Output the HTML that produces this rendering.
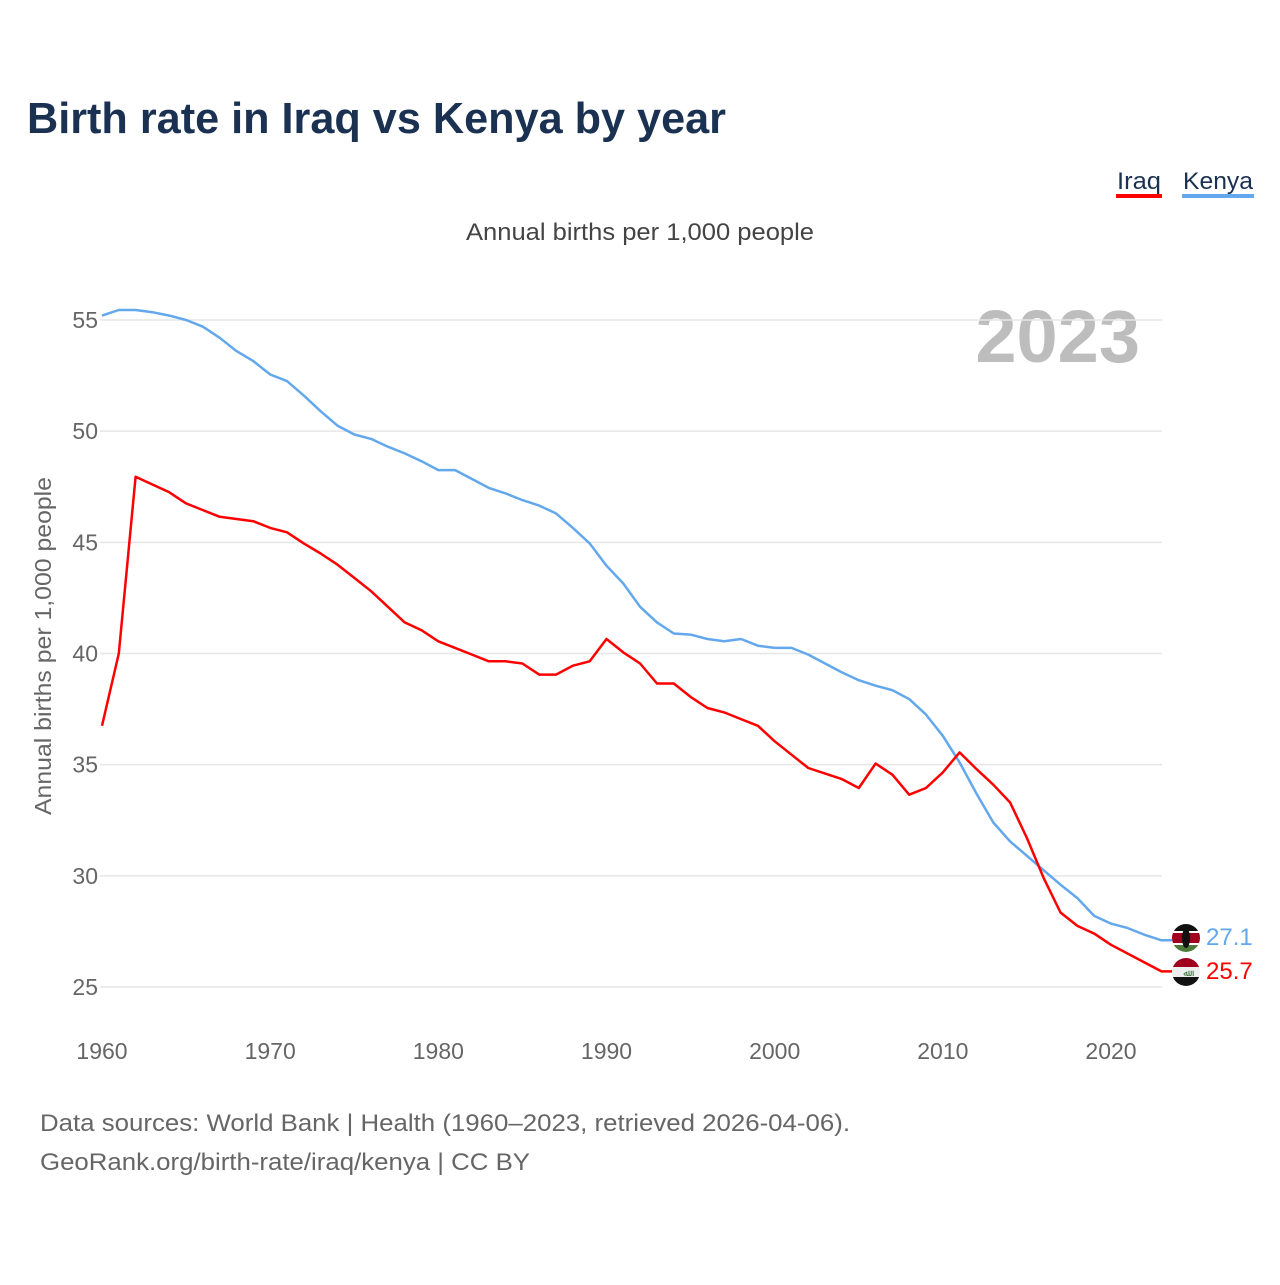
<!DOCTYPE html>
<html><head><meta charset="utf-8"><style>
body{margin:0;background:#fff;}
svg text{font-family:"Liberation Sans",sans-serif;}
</style></head><body>
<svg id="chart" width="1280" height="1280" viewBox="0 0 1280 1280" xmlns="http://www.w3.org/2000/svg">
<defs>
<clipPath id="cK"><circle cx="1186" cy="938" r="14"/></clipPath>
<clipPath id="cI"><circle cx="1186" cy="972" r="14"/></clipPath>
</defs>
<text x="27" y="133" font-size="44" font-weight="bold" fill="#1b3152" textLength="699" lengthAdjust="spacingAndGlyphs">Birth rate in Iraq vs Kenya by year</text>
<g>
<text x="1117" y="189" font-size="24" fill="#1b3152" textLength="44" lengthAdjust="spacingAndGlyphs">Iraq</text>
<rect x="1116" y="194" width="46" height="4" fill="#ff0000"/>
</g>
<g>
<text x="1183" y="189" font-size="24" fill="#1b3152" textLength="70" lengthAdjust="spacingAndGlyphs">Kenya</text>
<rect x="1182" y="194" width="72" height="4" fill="#63a8ec"/>
</g>
<text x="466" y="240" font-size="24" fill="#444" textLength="348" lengthAdjust="spacingAndGlyphs">Annual births per 1,000 people</text>
<text x="1140" y="362" font-size="74" font-weight="bold" fill="#bdbdbd" text-anchor="end">2023</text>
<text transform="translate(51,815) rotate(-90)" font-size="23" fill="#666" textLength="338" lengthAdjust="spacingAndGlyphs">Annual births per 1,000 people</text>
<g id="grid"></g>
<g id="yticks"></g>
<g id="xticks"></g>
<g id="lines"></g>
<g>
<g clip-path="url(#cK)">
<rect x="1170" y="922" width="32" height="9" fill="#111"/>
<rect x="1170" y="931" width="32" height="2" fill="#fff"/>
<rect x="1170" y="933" width="32" height="10" fill="#a0001e"/>
<rect x="1170" y="943" width="32" height="2" fill="#fff"/>
<rect x="1170" y="945" width="32" height="10" fill="#4e7a3a"/>
<ellipse cx="1186" cy="938" rx="4" ry="10" fill="#111"/>
</g>
<text x="1206" y="945" font-size="24" fill="#63a8ec">27.1</text>
</g>
<g>
<g clip-path="url(#cI)">
<rect x="1170" y="956" width="32" height="11" fill="#a0001e"/>
<rect x="1170" y="967" width="32" height="10" fill="#eee"/>
<rect x="1170" y="977" width="32" height="11" fill="#111"/>
<text x="1186" y="976" font-size="9" fill="#2f6b2f" text-anchor="middle">ﷲ</text>
</g>
<text x="1206" y="979" font-size="24" fill="#ff0000">25.7</text>
</g>
<text x="40" y="1131" font-size="24" fill="#666" textLength="810" lengthAdjust="spacingAndGlyphs">Data sources: World Bank | Health (1960–2023, retrieved 2026-04-06).</text>
<text x="40" y="1170" font-size="24" fill="#666" textLength="490" lengthAdjust="spacingAndGlyphs">GeoRank.org/birth-rate/iraq/kenya | CC BY</text>
</svg>
<script>
const years = Array.from({length:64},(_,i)=>1960+i);
const kenya = [55.2,55.45,55.45,55.35,55.2,55.0,54.7,54.2,53.6,53.15,52.55,52.25,51.6,50.9,50.25,49.85,49.65,49.3,49.0,48.65,48.25,48.25,47.85,47.45,47.2,46.9,46.65,46.3,45.65,44.95,43.95,43.15,42.1,41.4,40.9,40.85,40.65,40.55,40.65,40.35,40.25,40.25,39.95,39.55,39.15,38.8,38.55,38.35,37.95,37.25,36.3,35.1,33.7,32.4,31.55,30.9,30.25,29.6,29.0,28.2,27.85,27.65,27.35,27.1];
const iraq = [36.75,40.0,47.95,47.6,47.25,46.75,46.45,46.15,46.05,45.95,45.65,45.45,44.95,44.5,44.0,43.4,42.8,42.1,41.4,41.05,40.55,40.25,39.95,39.65,39.65,39.55,39.05,39.05,39.45,39.65,40.65,40.05,39.55,38.65,38.65,38.05,37.55,37.35,37.05,36.75,36.05,35.45,34.85,34.6,34.35,33.95,35.05,34.55,33.65,33.95,34.65,35.55,34.8,34.1,33.3,31.7,29.9,28.35,27.75,27.4,26.9,26.5,26.1,25.7];
const yTicks = [25,30,35,40,45,50,55];
const xTicks = [1960,1970,1980,1990,2000,2010,2020];
const NS="http://www.w3.org/2000/svg";
const X = y => 102 + (y-1960)*(1111-102)/60;
const Y = v => 987 - (v-25)*(987-320)/30;
function mk(tag, attrs, parent){const e=document.createElementNS(NS,tag);for(const k in attrs)e.setAttribute(k,attrs[k]);parent.appendChild(e);return e;}
const grid=document.getElementById('grid'), yt=document.getElementById('yticks'), xt=document.getElementById('xticks'), lines=document.getElementById('lines');
yTicks.forEach(v=>{
  const l=mk('line',{x1:100,x2:1162,y1:Y(v),y2:Y(v),stroke:'#e6e6e6','stroke-width':1.5},grid);
  
  
  const t=mk('text',{x:98,y:Y(v)+8,'font-size':23,fill:'#666','text-anchor':'end'},yt);
  t.textContent=v;
  
  
});
xTicks.forEach(yr=>{
  const t=mk('text',{x:X(yr),y:1059,'font-size':23,fill:'#666','text-anchor':'middle'},xt);
  t.textContent=yr;
  
  
});
function series(vals,color,name){
  let d=vals.map((v,i)=>(i?'L':'M')+X(years[i]).toFixed(1)+' '+Y(v).toFixed(1)).join(' ');
  d+=' L1172 '+Y(vals[vals.length-1]).toFixed(1);
  const p=mk('path',{d:d,fill:'none',stroke:color,'stroke-width':2.5,'stroke-linejoin':'round'},lines);
  
  
}
series(kenya,'#63a8ec','kenya-line');
series(iraq,'#ff0000','iraq-line');
</script>
</body></html>
